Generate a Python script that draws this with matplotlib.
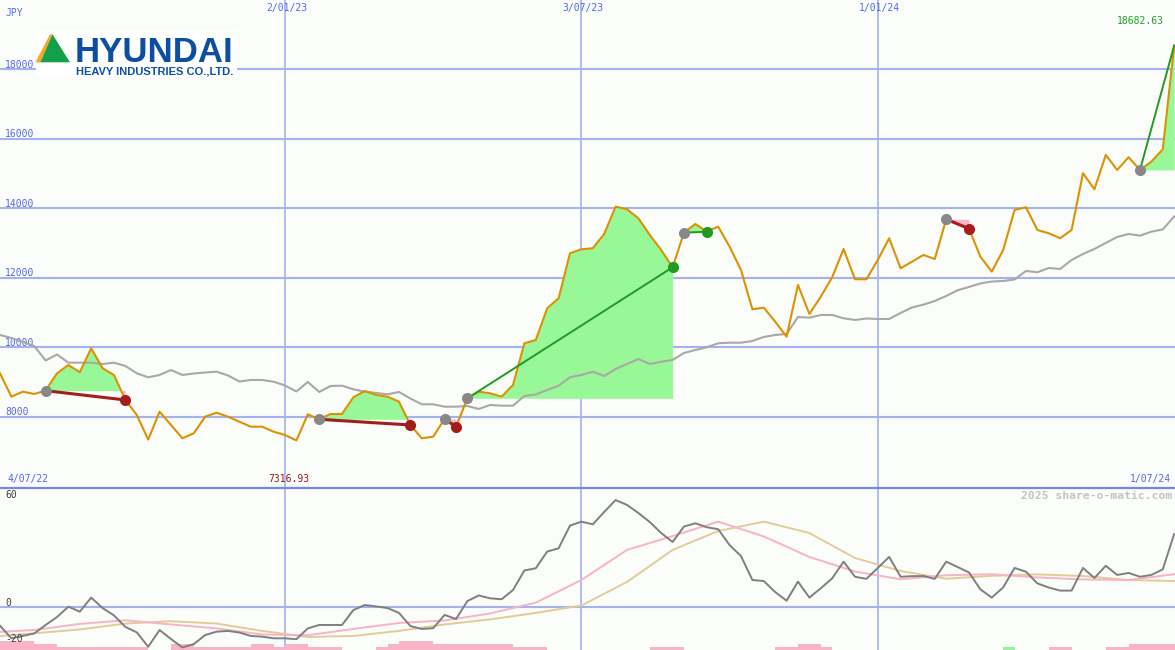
##### Hyundai Heavy Industries - weekly price chart with trade signals + momentum panel
import matplotlib
matplotlib.use('Agg')
import matplotlib.pyplot as plt
import matplotlib.dates as mdates
import numpy as np
import pandas as pd
from matplotlib.patches import Polygon, Rectangle

### weekly closes (JPY), 4/07/22 .. 1/07/24
dates = pd.date_range('2022-07-04', periods=105, freq='7D')

price = np.array([
    9500, 9249, 8576, 8720, 8654, 8749, 9249, 9488, 9278, 9969,
    9393, 9200, 8481, 8049, 7340, 8144, 7761, 7378, 7522, 8000,
    8115, 8000, 7856, 7712, 7712, 7568, 7473, 7316.93, 8069, 7925,
    8078, 8078, 8558, 8740, 8625, 8576, 8432, 7761, 7378, 7424,
    7934, 7712, 8530, 8720, 8674, 8576, 8913, 10113, 10208, 11121,
    11409, 12704, 12820, 12848, 13260, 14046, 13971, 13712, 13231, 12799,
    12301, 13298, 13548, 13326, 13470, 12894, 12224, 11092, 11138, 10735,
    10303, 11792, 10957, 11455, 12013, 12828, 11956, 11956, 12511, 13136,
    12272, 12462, 12655, 12540, 13683, 13550, 13413, 12606, 12175, 12799,
    13951, 14029, 13375, 13280, 13136, 13375, 15008, 14547, 15535, 15103,
    15468, 15103, 15342, 15698, 18682.63])

### moving average (grey line)
ma = np.array([
    10439, 10352, 10266, 10151, 10035, 9618, 9791, 9555, 9555, 9555,
    9517, 9555, 9460, 9249, 9134, 9201, 9344, 9201, 9244, 9273,
    9296, 9186, 9013, 9057, 9057, 9008, 8898, 8726, 8999, 8711,
    8884, 8892, 8789, 8720, 8682, 8645, 8711, 8524, 8357, 8357,
    8288, 8288, 8308, 8222, 8337, 8317, 8317, 8596, 8639, 8769,
    8892, 9134, 9201, 9296, 9172, 9373, 9517, 9661, 9517, 9583,
    9632, 9834, 9920, 9998, 10113, 10130, 10130, 10179, 10295, 10352,
    10381, 10870, 10850, 10928, 10928, 10833, 10784, 10827, 10813, 10813,
    10986, 11144, 11224, 11331, 11475, 11639, 11734, 11835, 11892, 11907,
    11950, 12195, 12157, 12281, 12252, 12511, 12684, 12828, 13001, 13174,
    13260, 13211, 13326, 13390, 13764])

### trades: entry / exit week index (last one still open)
entry_idx = [5, 29, 40, 42, 61, 84, 101]
exit_idx = [12, 37, 41, 60, 63, 86, 104]
still_open = [False, False, False, False, False, False, True]

### lower panel: momentum + two signal lines (sampled every 4 weeks) + histogram
mom = np.array([
    -7, -10.4, -17.4, -16.1, -14.7, -10, -5.6, 0.2, -2.6, 5.2,
    -0.6, -4.7, -11.1, -14.1, -22.1, -12.8, -17.8, -22.5, -20.6, -15.6,
    -13.7, -13.3, -14.2, -16.1, -16.5, -17.4, -17.4, -17.9, -11.9, -10,
    -10, -10, -1.7, 1.1, 0.3, -0.6, -3.3, -10.6, -12.2, -11.8,
    -4.4, -6.7, 3.3, 6.4, 4.8, 4.3, 9.4, 20.3, 21.5, 30.8,
    32.6, 45.2, 47.4, 45.9, 52.8, 59.4, 56.7, 52.2, 47.2, 41.1,
    36.1, 44.7, 46.5, 44.3, 43.2, 34.4, 28.3, 15, 14.4, 8.3,
    3.5, 14.1, 5.2, 10.4, 15.9, 25.2, 16.8, 15.6, 21.7, 27.8,
    16.8, 17.1, 17.2, 15.6, 25.2, 22.2, 19.2, 9.8, 5.2, 10.9,
    21.7, 19.6, 13.1, 10.8, 9.1, 9.1, 21.7, 16.1, 22.9, 17.8,
    18.9, 16.8, 17.8, 20.9, 40.6])

sig_dates = dates[::4]
sig_fast = [-14.2, -12.8, -9.4, -7.4, -9.7, -11.9, -15.3, -15.7, -12.2, -8.9, -7.5, -3.6, 2.4,
            15, 31.7, 39.4, 47.4, 39.2, 27.8, 19.7, 15.4, 17.6, 18.2, 16.4, 15.3, 15, 18.2]
sig_slow = [-16.7, -14.6, -12.5, -9.2, -7.9, -9.2, -13.3, -16.7, -16.1, -13.3, -9.7, -6.9, -3.3,
            0.8, 13.9, 31.7, 42.2, 47.4, 41.1, 27.2, 20, 15.7, 17.3, 18.1, 17.2, 15, 14.4]

hist = ([-5] * 4 + [-3.4] * 2 + [-1.7] * 8 + [0] * 2 + [-3.4] * 2 + [-1.7] * 5 + [-3.4] * 2 + [-1.7]
        + [-3.4] * 2 + [-1.7] * 3 + [0] * 3 + [-1.7] + [-3.4] + [-5] * 3 + [-3.4] * 7 + [-1.7] * 3
        + [0] * 9 + [-1.7] * 3 + [0] * 8 + [-1.7] * 2 + [-3.4] * 2 + [-1.7] + [0] * 15 + [1.7]
        + [0] * 3 + [-1.7] * 2 + [0] * 3 + [-1.7] * 2 + [-3.4] * 5)

price_levels = [8000, 10000, 12000, 14000, 16000, 18000]
v_dates = pd.to_datetime(['2023-01-02', '2023-07-03', '2024-01-01'])
v_labels = ['2/01/23', '3/07/23', '1/01/24']

### colours
bg = '#fbfdfa'
grid_c = '#a3b2f2'
lab_c = '#5566ee'
orange = '#dc9200'
green_fill = '#98f898'
pink_fill = '#fbb6c6'
green_line = '#229a22'
red_line = '#a41c1c'

xd = mdates.date2num(dates)
xlim = (mdates.date2num(pd.Timestamp('2022-07-11')), mdates.date2num(pd.Timestamp('2024-07-01 12:00')))

fig = plt.figure(figsize=(11.75, 6.5), dpi=100)
fig.patch.set_facecolor(bg)
ax = fig.add_axes([0, 163 / 650, 1, 487 / 650])
ax2 = fig.add_axes([0, 0, 1, 162 / 650])
for a in (ax, ax2):
    a.set_facecolor(bg)
    a.set_xlim(xlim)
    a.set_xticks([])
    a.set_yticks([])
    for s in a.spines.values():
        s.set_visible(False)
    for d in v_dates:
        a.axvline(mdates.date2num(d), color=grid_c, lw=1.2, zorder=0)

ax.set_ylim(5976, 19995)
ax2.set_ylim(-23.9, 66.1)

#### main panel
for v in price_levels:
    ax.axhline(v, color=grid_c, lw=1.5, zorder=0)
    ax.annotate(str(v), xy=(0, v), xycoords=('axes fraction', 'data'), xytext=(5, 1.5),
                textcoords='offset pixels', va='baseline', ha='left', color=lab_c,
                fontsize=7, family='DejaVu Sans Mono', zorder=0.5)

for e, x, op in zip(entry_idx, exit_idx, still_open):
    p0 = price[e]
    p1 = price[x]
    sx = xd[e:x + 1]
    sy = price[e:x + 1]
    ax.fill_between(sx, sy, p0, where=sy >= p0, interpolate=True, color=green_fill, lw=0, zorder=1)
    ax.fill_between(sx, sy, p0, where=sy < p0, interpolate=True, color=pink_fill, lw=0, zorder=1)
    win = p1 >= p0
    ax.plot([xd[e], xd[x]], [p0, p1], color=green_line if win else red_line,
            lw=1.4 if win else 2.2, zorder=4)
    ax.plot(xd[e], p0, 'o', color='#888888', ms=8, mec='none', zorder=5)
    if not op:
        ax.plot(xd[x], p1, 'o', color=green_line if win else red_line, ms=8, mec='none', zorder=5)

ax.plot(xd, ma, color='#a8a8a8', lw=1.5, zorder=2)
ax.plot(xd, price, color=orange, lw=1.5, zorder=3)

ax.annotate('JPY', xy=(0, 1), xycoords='axes fraction', xytext=(5, -13), textcoords='offset pixels',
            va='center', ha='left', color=lab_c, fontsize=7, family='DejaVu Sans Mono')
for d, l in zip(v_dates, v_labels):
    ax.annotate(l, xy=(mdates.date2num(d), 1), xycoords=('data', 'axes fraction'), xytext=(2, -8),
                textcoords='offset pixels', va='center', ha='center', color=lab_c, fontsize=7,
                family='DejaVu Sans Mono')
ax.annotate('4/07/22', xy=(0, 0), xycoords='axes fraction', xytext=(8, 8), textcoords='offset pixels',
            va='center', ha='left', color=lab_c, fontsize=7, family='DejaVu Sans Mono')
ax.annotate('1/07/24', xy=(1, 0), xycoords='axes fraction', xytext=(-4, 8), textcoords='offset pixels',
            va='center', ha='right', color=lab_c, fontsize=7, family='DejaVu Sans Mono')
imin = int(np.argmin(price))
ax.annotate(f'{price[imin]:.2f}', xy=(xd[imin], 0), xycoords=('data', 'axes fraction'), xytext=(-7, 8),
            textcoords='offset pixels', va='center', ha='center', color='#a01818', fontsize=7,
            family='DejaVu Sans Mono')
ax.annotate(f'{price.max():.2f}', xy=(1, 1), xycoords='axes fraction', xytext=(-11, -21),
            textcoords='offset pixels', va='center', ha='right', color='#22a022', fontsize=7,
            family='DejaVu Sans Mono')

#### lower panel
ax2.axhline(0, color=grid_c, lw=1.5, zorder=0)
hist = np.array(hist)
bar_c = np.where(hist > 0, '#98f098', '#f9b4c9')
ax2.bar(xd, np.abs(hist), width=7, align='edge', bottom=-23.9, color=bar_c, lw=0, zorder=1)
ax2.plot(mdates.date2num(sig_dates), sig_slow, color='#e3cb98', lw=1.4, zorder=2)
ax2.plot(mdates.date2num(sig_dates), sig_fast, color='#f9b2c6', lw=1.4, zorder=2)
ax2.plot(xd, mom, color='#7f7f7f', lw=1.4, zorder=3)
for v in [60, 0, -20]:
    ax2.annotate(str(v), xy=(0, v), xycoords=('axes fraction', 'data'), xytext=(5, 1),
                 textcoords='offset pixels', va='baseline', ha='left', color='#404040',
                 fontsize=7, family='DejaVu Sans Mono', zorder=6)
ax2.annotate('2025 share-o-matic.com', xy=(1, 1), xycoords='axes fraction', xytext=(-3, -8),
             textcoords='offset pixels', va='center', ha='right', color='#c4c4c4', fontsize=8.2,
             family='DejaVu Sans Mono', fontweight='bold')

#### overlay: separator + logo (pixel coords)
ov = fig.add_axes([0, 0, 1, 1])
ov.set_xlim(0, 1175)
ov.set_ylim(650, 0)
ov.axis('off')
ov.patch.set_alpha(0)
ov.plot([0, 1175], [487.5, 487.5], color='#7585f0', lw=1.6)
ov.add_patch(Rectangle((35.5, 30), 201, 47, color='white', lw=0))
ov.add_patch(Polygon([(35.5, 62.3), (41, 62.3), (52.5, 34.3), (50, 34.3)], color='#f5a623', lw=0))
ov.add_patch(Polygon([(40.5, 62.3), (52.5, 34.3), (70, 62.3)], color='#14a04a', lw=0))
ov.text(75, 61.7, 'HYUNDAI', ha='left', va='baseline', color='#0c4ea2', fontsize=25,
        family='Liberation Sans', fontweight='bold')
ov.text(76, 74.5, 'HEAVY INDUSTRIES CO.,LTD.', ha='left', va='baseline', color='#0c4ea2',
        fontsize=8, family='Liberation Sans', fontweight='bold')

plt.savefig('out.png', dpi=100, facecolor=bg)
